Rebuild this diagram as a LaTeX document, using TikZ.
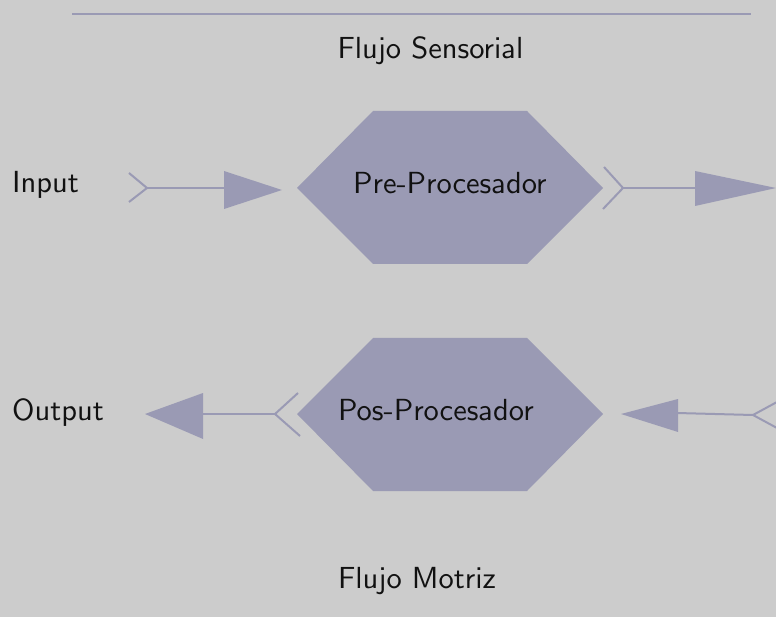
\documentclass[tikz,border=0pt]{standalone}
\usetikzlibrary{calc}
\definecolor{bgc}{RGB}{204,204,204}
\definecolor{shp}{RGB}{154,154,180}
\definecolor{txt}{RGB}{17,17,17}
\font\myssfont=cmss10 at 30.5pt
\begin{document}
\begin{tikzpicture}[x=1pt,y=-1pt,
  lbl/.style={anchor=base,inner sep=0pt,text=txt,font=\myssfont},
  conn/.style={draw=shp,line width=2pt},
  fork/.style={draw=shp,line width=2pt,line join=miter},
  headtri/.style={fill=shp,draw=none},
  hexa/.style={fill=shp,draw=none}]
\fill[bgc] (0,0) rectangle (776,617);
\useasboundingbox (0,0) rectangle (776,617);
% top rule
\coordinate (r1) at (72,14); \coordinate (r2) at (751,14);
\draw[draw=shp,line width=2.2pt] (r1) -- (r2);
\node[lbl] (fs) at (430.5,58.3) {Flujo Sensorial};
\node[lbl] (fm) at (417,588.3) {Flujo Motriz};
% hexagons
\fill[hexa] (373,111) -- (527,111) -- (603,188) -- (527,264) -- (373,264) -- (297,188) -- cycle;
\fill[hexa] (373,338) -- (527,338) -- (603,414) -- (527,491) -- (373,491) -- (297,414) -- cycle;
\node[lbl] (pre) at (450,193.3) {Pre-Procesador};
\node[lbl] (pos) at (436,420.3) {Pos-Procesador};
\node[lbl,anchor=base west] (in) at (12,192.3) {Input};
\node[lbl,anchor=base west] (out) at (12,420.3) {Output};
% upper left arrow
\coordinate (ula) at (147,188); \coordinate (ulb) at (224,188);
\draw[fork] (129,173) -- (ula) -- (129,202);
\draw[conn] (ula) -- (ulb);
\fill[headtri] (224,171) -- (282,190) -- (224,209) -- cycle;
% upper right arrow
\coordinate (ura) at (623,188); \coordinate (urb) at (696,188);
\draw[fork] (604,167) -- (ura) -- (603,209);
\draw[conn] (ura) -- (urb);
\fill[headtri] (695,171) -- (776,188) -- (695,206) -- cycle;
% lower left arrow
\coordinate (lla) at (275,414); \coordinate (llb) at (202,414);
\draw[fork] (298,393) -- (lla) -- (300,436);
\draw[conn] (lla) -- (llb);
\fill[headtri] (203,393) -- (145,414) -- (203,439) -- cycle;
% lower right arrow
\coordinate (lra) at (753,415); \coordinate (lrb) at (677,413);
\draw[fork] (777,402) -- (lra) -- (777,428);
\draw[conn] (lra) -- (lrb);
\fill[headtri] (678,399) -- (621,414) -- (678,432) -- cycle;
\end{tikzpicture}
\end{document}
